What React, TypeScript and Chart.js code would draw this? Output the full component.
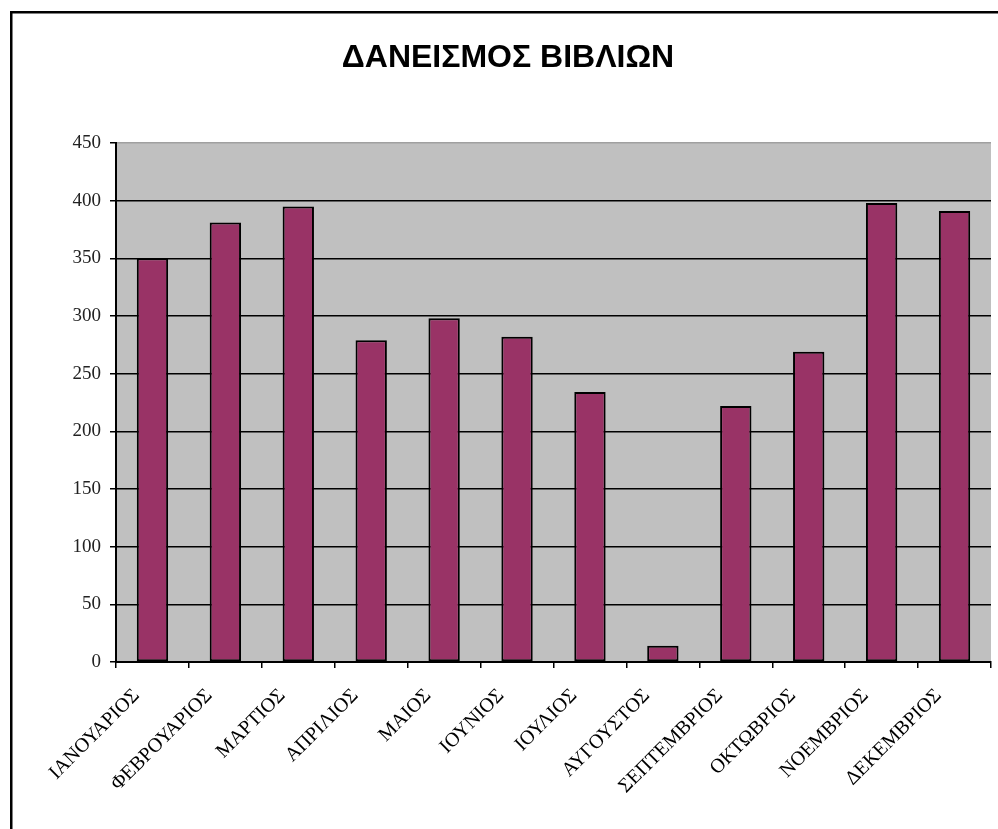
import React, { useEffect, useRef } from "react";
import { Chart, registerables } from "chart.js";

Chart.register(...registerables);

const TITLE = "ΔΑΝΕΙΣΜΟΣ ΒΙΒΛΙΩΝ";
const MONTHS = [
  "ΙΑΝΟΥΑΡΙΟΣ",
  "ΦΕΒΡΟΥΑΡΙΟΣ",
  "ΜΑΡΤΙΟΣ",
  "ΑΠΡΙΛΙΟΣ",
  "ΜΑΙΟΣ",
  "ΙΟΥΝΙΟΣ",
  "ΙΟΥΛΙΟΣ",
  "ΑΥΓΟΥΣΤΟΣ",
  "ΣΕΠΤΕΜΒΡΙΟΣ",
  "ΟΚΤΩΒΡΙΟΣ",
  "ΝΟΕΜΒΡΙΟΣ",
  "ΔΕΚΕΜΒΡΙΟΣ",
];
const LOANS = [350, 381, 395, 279, 298, 282, 234, 14, 222, 269, 398, 391];
const Y_MIN = 0;
const Y_MAX = 450;
const Y_STEP = 50;

const framePlugin = {
  id: "frameAndBg",
  beforeDraw(chart: any) {
    const { ctx, chartArea } = chart;
    ctx.save();
    ctx.fillStyle = "#ffffff";
    ctx.fillRect(0, 0, chart.width, chart.height);
    ctx.strokeStyle = "#000";
    ctx.lineWidth = 2.5;
    ctx.strokeRect(11.25, 12.25, 1100, 1100);
    ctx.fillStyle = "#C0C0C0";
    ctx.fillRect(
      chartArea.left,
      chartArea.top,
      chartArea.right - chartArea.left,
      chartArea.bottom - chartArea.top
    );
    ctx.fillStyle = "#000";
    ctx.font = "bold 32px 'Liberation Sans', Arial, sans-serif";
    ctx.textAlign = "center";
    ctx.textBaseline = "alphabetic";
    ctx.fillText(TITLE, 508, 67);
    ctx.restore();
  },
};

export default function App() {
  const ref = useRef<HTMLCanvasElement | null>(null);

  useEffect(() => {
    if (!ref.current) return;
    const chart = new Chart(ref.current, {
      type: "bar",
      data: {
        labels: MONTHS,
        datasets: [
          {
            label: TITLE,
            data: LOANS,
            backgroundColor: "#993366",
            borderColor: "#000000",
            borderWidth: 2,
            borderSkipped: false,
            barPercentage: 0.43,
            categoryPercentage: 1.0,
          },
        ],
      },
      options: {
        responsive: false,
        animation: false,
        layout: { padding: { top: 143, right: 7, left: 0, bottom: 0 } },
        plugins: {
          legend: { display: false },
          title: { display: false },
          tooltip: { enabled: false },
        },
        scales: {
          x: {
            afterFit(scale: any) {
              scale.height = 167;
            },
            border: { color: "#000", width: 2 },
            grid: {
              offset: true,
              drawOnChartArea: false,
              drawTicks: true,
              tickLength: 6,
              color: "#000",
              lineWidth: 1.5,
            },
            ticks: {
              autoSkip: false,
              maxRotation: 45,
              minRotation: 45,
              padding: 16,
              labelOffset: -16,
              color: "#000",
              font: { family: "'Liberation Serif', 'Times New Roman', serif", size: 20 },
            },
          },
          y: {
            min: Y_MIN,
            max: Y_MAX,
            afterFit(scale: any) {
              scale.width = 116;
            },
            border: { color: "#000", width: 2 },
            grid: {
              color: (c: any) => (c.tick && c.tick.value === Y_MAX ? "#A0A0A0" : "#000"),
              tickColor: "#000",
              tickLength: 6,
              lineWidth: 1.5,
            },
            ticks: {
              stepSize: Y_STEP,
              padding: 9,
              color: "#222",
              font: { family: "'Liberation Serif', 'Times New Roman', serif", size: 19 },
            },
          },
        },
      },
      plugins: [framePlugin],
    });
    return () => chart.destroy();
  }, []);

  return (
    <div style={{ position: "absolute", left: 0, top: 0, width: 998, height: 829 }}>
      <canvas ref={ref} width={998} height={829} style={{ width: 998, height: 829 }} />
    </div>
  );
}
